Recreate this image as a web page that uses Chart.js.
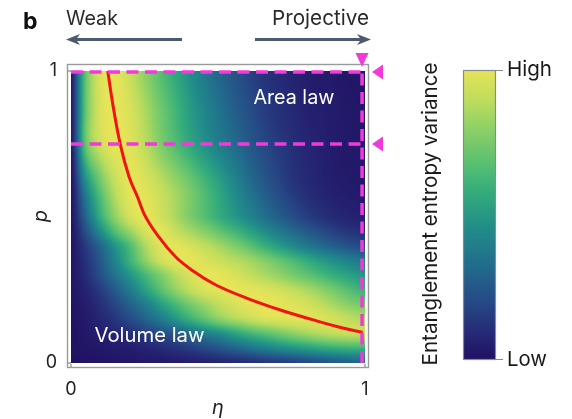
<!DOCTYPE html>
<html><head><meta charset="utf-8">
<script src="https://cdn.jsdelivr.net/npm/chart.js@4.4.0/dist/chart.umd.min.js"></script>
<style>html,body{margin:0;padding:0;background:#fff;}canvas{display:block;}</style>
</head><body>
<canvas id="c" width="572" height="419"></canvas>
<script>
// ---- data ----
const etaGrid = [0,0.05,0.1,0.15,0.2,0.25,0.3,0.35,0.4,0.45,0.5,0.55,0.6,0.65,0.7,0.75,0.8,0.85,0.9,0.95,1];
const pGrid = [0,0.05,0.1,0.15,0.2,0.25,0.3,0.35,0.4,0.45,0.5,0.6,0.75,0.875,1];
// entanglement entropy variance (0 = low, 1 = high), one row per pGrid value (bottom to top)
const varianceRows = [
  [.00,.01,.01,.02,.02,.03,.03,.04,.05,.06,.07,.08,.10,.12,.14,.16,.19,.22,.25,.28,.30],
  [.01,.02,.03,.04,.05,.07,.09,.12,.15,.19,.23,.28,.33,.38,.43,.47,.51,.55,.58,.60,.60],
  [.01,.03,.05,.08,.11,.15,.20,.25,.31,.38,.44,.52,.60,.66,.72,.78,.83,.87,.90,.91,.91],
  [.01,.04,.08,.13,.20,.28,.37,.47,.58,.68,.78,.85,.90,.95,.97,.98,.98,.97,.94,.90,.87],
  [.02,.05,.11,.19,.28,.38,.50,.62,.73,.82,.90,.95,.99,1.0,1.0,.98,.95,.90,.84,.78,.74],
  [.02,.07,.15,.26,.38,.52,.66,.79,.89,.96,.99,1.0,1.0,.98,.95,.91,.86,.80,.73,.66,.60],
  [.02,.10,.22,.35,.48,.62,.75,.87,.95,1.0,1.0,.97,.92,.87,.82,.76,.70,.64,.58,.53,.49],
  [.02,.12,.25,.42,.60,.78,.92,.99,1.0,.97,.93,.89,.85,.79,.72,.65,.58,.51,.45,.40,.36],
  [.02,.15,.30,.48,.65,.85,.97,1.0,.96,.91,.85,.78,.70,.61,.53,.45,.38,.32,.27,.23,.20],
  [.02,.22,.45,.66,.82,.95,1.0,.93,.86,.79,.71,.63,.55,.47,.39,.32,.26,.21,.16,.13,.11],
  [.02,.30,.58,.80,.95,1.0,.95,.87,.77,.68,.59,.51,.43,.35,.28,.22,.16,.12,.09,.07,.06],
  [.02,.42,.70,.90,1.0,.98,.92,.84,.75,.65,.55,.45,.35,.27,.20,.14,.10,.07,.05,.04,.03],
  [.03,.70,.93,1.0,.98,.90,.78,.67,.57,.48,.40,.33,.26,.20,.15,.11,.08,.06,.04,.03,.03],
  [.03,.70,.96,1.0,.96,.86,.74,.63,.52,.43,.35,.28,.22,.16,.12,.09,.06,.05,.04,.03,.02],
  [.03,.70,.97,1.0,.92,.80,.68,.57,.47,.38,.30,.24,.18,.13,.10,.07,.05,.04,.03,.02,.02]
];
// critical line (red)
const curveEta = [0.125,0.142,0.168,0.198,0.227,0.249,0.300,0.357,0.414,0.493,0.606,0.720,0.833,0.924,0.992];
const curveP   = [1.000,0.887,0.747,0.636,0.567,0.510,0.430,0.362,0.316,0.267,0.219,0.179,0.145,0.120,0.105];
// dashed magenta markers
const markerP = [0.997, 0.75];
const markerEta = 0.99;
const xTicks = [0, 1];
const yTicks = [0, 1];
const colorbarLabels = ['High', 'Low'];
const regionLabels = ['Area law', 'Volume law'];
const regionEta = [0.758, 0.267];
const regionP = [0.907, 0.092];
const arrowLabels = ['Weak', 'Projective'];

// ---- styling ----
const FONT = 'Inter, "Noto Sans", sans-serif';
const MAGENTA = 'rgb(242,58,218)';
const cmapStops = [
  [0.00, 33, 16, 98],
  [0.08, 37, 38, 116],
  [0.20, 38, 74, 134],
  [0.33, 33, 110, 141],
  [0.46, 33, 142, 137],
  [0.58, 52, 172, 124],
  [0.69, 94, 194, 112],
  [0.80, 142, 209, 102],
  [0.90, 192, 221, 93],
  [1.00, 230, 228, 88]
];
function cmap(v){
  v = Math.max(0, Math.min(1, v));
  for (let k=1;k<cmapStops.length;k++){
    const a=cmapStops[k-1], b=cmapStops[k];
    if (v<=b[0]){
      const t=(v-a[0])/(b[0]-a[0]);
      return [a[1]+(b[1]-a[1])*t, a[2]+(b[2]-a[2])*t, a[3]+(b[3]-a[3])*t];
    }
  }
  const l=cmapStops[cmapStops.length-1]; return [l[1],l[2],l[3]];
}
function findIdx(arr, v){
  if (v<=arr[0]) return [0,0];
  for (let k=1;k<arr.length;k++) if (v<=arr[k]) return [k-1,(v-arr[k-1])/(arr[k]-arr[k-1])];
  return [arr.length-2,1];
}
function cr(a,b,c,d,t){
  return 0.5*(2*b + (-a+c)*t + (2*a-5*b+4*c-d)*t*t + (-a+3*b-3*c+d)*t*t*t);
}
function sampleField(e,p){
  const [i,tx]=findIdx(etaGrid,e), [j,ty]=findIdx(pGrid,p);
  const nI=etaGrid.length-1, nJ=pGrid.length-1;
  const cl=(v,n)=>Math.max(0,Math.min(n,v));
  const rowVal = r => { const R=varianceRows[cl(r,nJ)]; return cr(R[cl(i-1,nI)],R[i],R[cl(i+1,nI)],R[cl(i+2,nI)],tx); };
  const v = cr(rowVal(j-1),rowVal(j),rowVal(j+1),rowVal(j+2),ty);
  return Math.max(0,Math.min(1,v));
}
function fitFont(ctx, text, width, weight){
  ctx.font = (weight||'')+' 20px '+FONT;
  const w = ctx.measureText(text).width;
  return (weight||'')+' '+(20*width/w).toFixed(2)+'px '+FONT;
}

const heatmapPlugin = {
  id:'heatmap',
  beforeDatasetsDraw(chart){
    const {ctx, scales:{x,y}} = chart;
    const x0=Math.round(x.getPixelForValue(etaGrid[0])), x1=Math.round(x.getPixelForValue(etaGrid[etaGrid.length-1]));
    const y0=Math.round(y.getPixelForValue(pGrid[pGrid.length-1])), y1=Math.round(y.getPixelForValue(pGrid[0]));
    const w=x1-x0, h=y1-y0;
    const off=document.createElement('canvas'); off.width=w; off.height=h;
    const octx=off.getContext('2d'); const img=octx.createImageData(w,h);
    for (let j=0;j<h;j++){
      const p=y.getValueForPixel(y0+j+0.5);
      for (let i=0;i<w;i++){
        const e=x.getValueForPixel(x0+i+0.5);
        const c=cmap(sampleField(e,p)); const k=(j*w+i)*4;
        img.data[k]=c[0]; img.data[k+1]=c[1]; img.data[k+2]=c[2]; img.data[k+3]=255;
      }
    }
    octx.putImageData(img,0,0);
    ctx.drawImage(off,x0,y0);
  },
  afterDatasetsDraw(chart){
    const {ctx, chartArea:ca, scales:{x,y}} = chart;
    ctx.save();
    // frame
    ctx.strokeStyle='#9a9a9a'; ctx.lineWidth=1.4;
    ctx.strokeRect(ca.left+0.5, ca.top+0.5, ca.right-ca.left-1, ca.bottom-ca.top-1);
    // inward ticks
    ctx.beginPath();
    yTicks.forEach(v=>{const py=y.getPixelForValue(v); ctx.moveTo(ca.left,py); ctx.lineTo(ca.left+4,py);});
    xTicks.forEach(v=>{const px=x.getPixelForValue(v); ctx.moveTo(px,ca.bottom); ctx.lineTo(px,ca.bottom-4);});
    ctx.stroke();
    // region labels
    ctx.fillStyle='#ffffff'; ctx.textAlign='center'; ctx.textBaseline='middle';
    const rw=[81,110];
    regionLabels.forEach((t,i)=>{ ctx.font=fitFont(ctx,t,rw[i]); ctx.fillText(t, x.getPixelForValue(regionEta[i]), y.getPixelForValue(regionP[i])); });
    // triangles
    ctx.fillStyle=MAGENTA;
    const tx=x.getPixelForValue(markerEta);
    ctx.beginPath(); ctx.moveTo(tx,ca.top+3); ctx.lineTo(tx-6.5,ca.top-11); ctx.lineTo(tx+6.5,ca.top-11); ctx.closePath(); ctx.fill();
    markerP.forEach(v=>{
      const py=y.getPixelForValue(v);
      ctx.beginPath(); ctx.moveTo(ca.right+3,py); ctx.lineTo(ca.right+14,py-7.5); ctx.lineTo(ca.right+14,py+7.5); ctx.closePath(); ctx.fill();
    });
    ctx.restore();
  },
  afterDraw(chart){
    const {ctx} = chart;
    ctx.save();
    // panel letter
    ctx.fillStyle='#111'; ctx.font='bold 23px '+FONT; ctx.textAlign='left'; ctx.textBaseline='alphabetic';
    ctx.fillText('b', 23, 29);
    // arrow labels
    ctx.fillStyle='#2a2a2a';
    ctx.textAlign='left'; ctx.font=fitFont(ctx,arrowLabels[0],52); ctx.fillText(arrowLabels[0], 66, 25);
    ctx.textAlign='right'; ctx.font=fitFont(ctx,arrowLabels[1],97); ctx.fillText(arrowLabels[1], 369, 25);
    // arrows
    const ac='rgb(76,90,110)'; ctx.strokeStyle=ac; ctx.fillStyle=ac; ctx.lineWidth=3;
    function arrow(xs,xe,yy){
      const d=Math.sign(xe-xs);
      ctx.beginPath(); ctx.moveTo(xs,yy); ctx.lineTo(xe-d*8,yy); ctx.stroke();
      ctx.beginPath(); ctx.moveTo(xe,yy); ctx.lineTo(xe-d*14,yy-5.5); ctx.lineTo(xe-d*10,yy); ctx.lineTo(xe-d*14,yy+5.5); ctx.closePath(); ctx.fill();
    }
    arrow(182,66,39.5); arrow(255,371,39.5);
    // colorbar
    const cbL=463, cbR=496, cbT=70, cbB=360;
    const g=ctx.createLinearGradient(0,cbB,0,cbT);
    for (let k=0;k<=40;k++){const c=cmap(k/40); g.addColorStop(k/40,`rgb(${c[0]|0},${c[1]|0},${c[2]|0})`);}
    ctx.fillStyle=g; ctx.fillRect(cbL,cbT,cbR-cbL,cbB-cbT);
    ctx.strokeStyle='#8a8a8a'; ctx.lineWidth=1.2; ctx.strokeRect(cbL+0.5,cbT+0.5,cbR-cbL-1,cbB-cbT-1);
    ctx.beginPath(); ctx.moveTo(cbR,cbT+0.5); ctx.lineTo(cbR+7,cbT+0.5); ctx.moveTo(cbR,cbB-0.5); ctx.lineTo(cbR+7,cbB-0.5); ctx.stroke();
    ctx.fillStyle='#1a1a1a'; ctx.textAlign='left'; ctx.textBaseline='middle';
    ctx.font=fitFont(ctx,colorbarLabels[0],45); ctx.fillText(colorbarLabels[0], cbR+11, cbT);
    ctx.font=fitFont(ctx,colorbarLabels[1],40); ctx.fillText(colorbarLabels[1], cbR+11, cbB);
    // colorbar title
    const title='Entanglement entropy variance';
    ctx.save(); ctx.translate(431, 214); ctx.rotate(-Math.PI/2);
    ctx.textAlign='center'; ctx.textBaseline='middle'; ctx.font=fitFont(ctx,title,303);
    ctx.fillText(title,0,0);
    ctx.restore();
    ctx.restore();
  }
};

const curveData = curveEta.map((e,i)=>({x:e,y:curveP[i]}));
const dashStyle = {type:'line', borderColor:MAGENTA, borderWidth:3.5, borderDash:[12,6.5], pointRadius:0, fill:false, order:0};

new Chart(document.getElementById('c').getContext('2d'), {
  type:'scatter',
  data:{datasets:[
    Object.assign({}, dashStyle, {data:[{x:etaGrid[0],y:markerP[0]},{x:markerEta,y:markerP[0]}]}),
    Object.assign({}, dashStyle, {data:[{x:etaGrid[0],y:markerP[1]},{x:markerEta,y:markerP[1]}]}),
    Object.assign({}, dashStyle, {data:[{x:markerEta,y:pGrid[0]},{x:markerEta,y:markerP[0]}]}),
    {type:'line', data:curveData, borderColor:'rgb(240,20,20)', borderWidth:3, pointRadius:0, cubicInterpolationMode:'monotone', fill:false, order:1}
  ]},
  options:{
    responsive:false, animation:false, devicePixelRatio:1,
    layout:{padding:{left:20,right:203,top:64,bottom:0}},
    plugins:{legend:{display:false}, tooltip:{enabled:false}},
    scales:{
      x:{type:'linear', min:-0.0136, max:1.0136,
        afterBuildTicks:s=>{s.ticks=xTicks.map(v=>({value:v}));},
        afterFit:s=>{s.height=51;},
        grid:{display:false, drawTicks:false}, border:{display:false},
        ticks:{padding:11, color:'#222', font:{family:FONT,size:18}, callback:v=>String(v), maxRotation:0, autoSkip:false},
        title:{display:true, text:'η', color:'#222', font:{family:FONT,size:20,style:'italic'}, padding:{top:0,bottom:-1}}
      },
      y:{type:'linear', min:-0.0171, max:1.024,
        afterBuildTicks:s=>{s.ticks=yTicks.map(v=>({value:v}));},
        afterFit:s=>{s.width=47;},
        grid:{display:false, drawTicks:false}, border:{display:false},
        ticks:{padding:10, color:'#222', font:{family:FONT,size:18}, callback:v=>String(v), autoSkip:false},
        title:{display:true, text:'p', color:'#222', font:{family:FONT,size:20,style:'italic'}, padding:{top:9,bottom:0}}
      }
    }
  },
  plugins:[heatmapPlugin]
});
</script>
</body></html>
